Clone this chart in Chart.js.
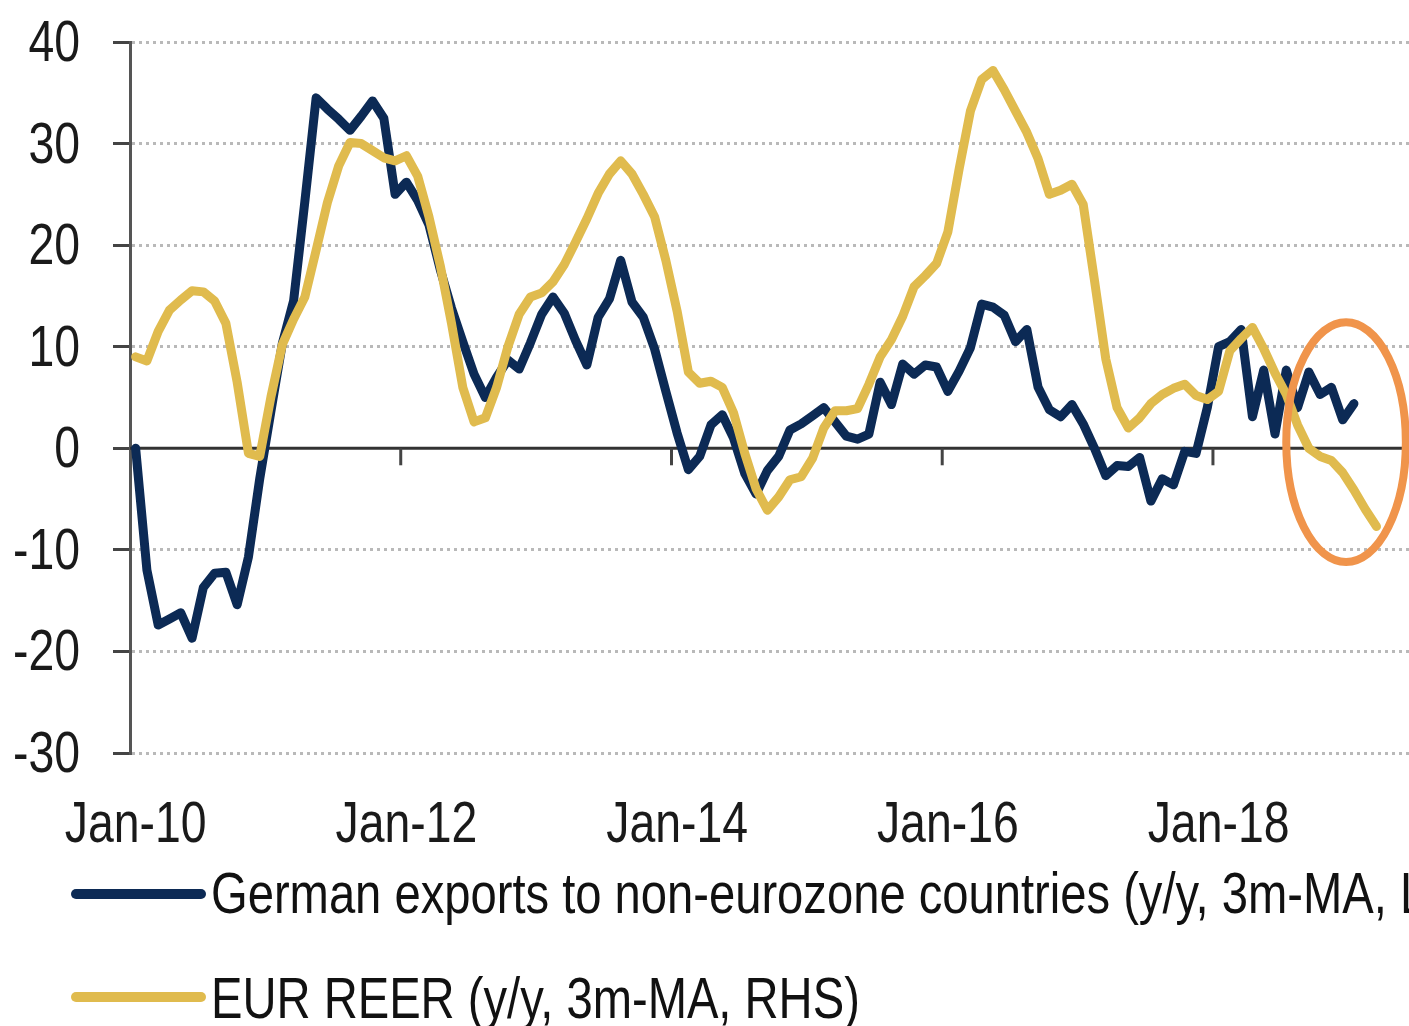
<!DOCTYPE html>
<html>
<head>
<meta charset="utf-8">
<script src="https://cdn.jsdelivr.net/npm/chart.js@4.4.0/dist/chart.umd.min.js"></script>
<style>
    html, body { margin: 0; padding: 0; background: #fff; overflow: hidden; width: 1409px; height: 1026px; }
    #wrap { position: absolute; left: 0; top: 0; width: 1416px; height: 871px; }
    .swatch { position: absolute; left: 71px; width: 135px; height: 10px; border-radius: 5px; }
    .legendText { position: absolute; left: 211px; white-space: nowrap; font-family: 'Liberation Sans', Arial, sans-serif; font-size: 58px; line-height: 58px; color: #111; transform: scaleX(0.813); transform-origin: 0 0; }
</style>
</head>
<body>
<div id="wrap"><canvas id="exportsChart" width="1416" height="871"></canvas></div>
<div class="swatch" style="top:889px; background:#0c2a55;"></div>
<div class="legendText" style="top:864px;">German exports to non-eurozone countries (y/y, 3m-MA, LHS)</div>
<div class="swatch" style="top:992px; background:#e0bb4e;"></div>
<div class="legendText" style="top:969px;">EUR REER (y/y, 3m-MA, RHS)</div>

<script>
const monthNames = ['Jan', 'Feb', 'Mar', 'Apr', 'May', 'Jun', 'Jul', 'Aug', 'Sep', 'Oct', 'Nov', 'Dec'];
const startYear = 2010;
const monthCount = 114; // Jan-10 .. Jun-19, axis runs past the last data point

// German exports to non-eurozone countries, y/y %, 3m-MA (from Jan-10)
const exportsYoY = [
    0, -12.0, -17.4, -16.8, -16.2, -18.7, -13.7, -12.3, -12.2, -15.4, -10.7, -3.0,
    3.7, 10.3, 14.5, 24.3, 34.5, 33.4, 32.4, 31.3, 32.7, 34.2, 32.5, 25.0,
    26.2, 24.4, 22.0, 17.6, 13.8, 10.5, 7.3, 5.0, 7.0, 8.7, 7.8, 10.4,
    13.2, 14.9, 13.3, 10.6, 8.2, 12.9, 14.7, 18.5, 14.4, 12.9, 9.8, 5.6,
    1.5, -2.1, -0.8, 2.3, 3.3, 1.0, -2.5, -4.5, -2.2, -0.8, 1.8, 2.4,
    3.2, 4.0, 2.6, 1.2, 0.9, 1.4, 6.5, 4.3, 8.3, 7.3, 8.2, 8.0,
    5.6, 7.6, 9.9, 14.2, 13.9, 13.1, 10.5, 11.7, 6.0, 3.8, 3.1, 4.3,
    2.4, 0.0, -2.7, -1.7, -1.8, -0.9, -5.2, -3.0, -3.6, -0.3, -0.5, 4.0,
    10.0, 10.5, 11.7, 3.1, 7.7, 1.4, 7.7, 4.0, 7.5, 5.3, 6.0, 2.8,
    4.4
];

// EUR REER, y/y %, 3m-MA (from Jan-10)
const reerYoY = [
    9.0, 8.6, 11.5, 13.6, 14.6, 15.5, 15.4, 14.5, 12.3, 6.5, -0.5, -0.8,
    5.1, 10.2, 12.7, 14.9, 19.5, 24.2, 27.8, 30.1, 30.0, 29.3, 28.6, 28.3,
    28.8, 26.8, 22.8, 18.0, 12.3, 6.0, 2.6, 3.0, 6.0, 10.0, 13.2, 14.9,
    15.3, 16.4, 18.1, 20.3, 22.6, 25.1, 27.0, 28.3, 27.0, 25.0, 22.8, 18.5,
    13.5, 7.5, 6.4, 6.6, 6.0, 3.5, -0.5, -4.0, -6.1, -4.8, -3.1, -2.8,
    -1.0, 2.0, 3.7, 3.7, 3.9, 6.3, 9.0, 10.7, 13.0, 15.9, 17.0, 18.2,
    21.3, 27.5, 33.2, 36.3, 37.2, 35.3, 33.2, 31.1, 28.5, 25.0, 25.4, 26.0,
    24.0, 16.5, 8.8, 4.0, 2.0, 3.0, 4.4, 5.3, 5.9, 6.3, 5.2, 4.8,
    5.6, 9.6, 10.8, 11.9, 9.8, 7.4, 5.3, 2.3, 0.0, -0.8, -1.2, -2.4,
    -4.1, -6.0, -7.7
];

const yTicks = { min: -30, max: 40, step: 10 };

// highlight ellipse, in data units: [month index, value]
const circleCenter = [107.3, 0.6];
const circleRadius = [5.3, 11.8];

const monthLabels = [];
for (let i = 0; i < monthCount; i++) {
    const yr = startYear + Math.floor(i / 12);
    monthLabels.push(monthNames[i % 12] + '-' + String(yr).slice(2));
}

function isMajor(i) {
    return i % 24 === 0;
}

// narrow look: Liberation Sans squeezed horizontally
const labelFont = "58px 'Liberation Sans', Arial, sans-serif";
const squeeze = 0.8;

const zeroLinePlugin = {
    id: 'zeroLine',
    beforeDatasetsDraw(chart) {
        const { ctx, chartArea, scales: { x, y } } = chart;
        const y0 = y.getPixelForValue(0);
        ctx.save();
        ctx.strokeStyle = '#333';
        ctx.lineWidth = 3;
        ctx.beginPath();
        ctx.moveTo(chartArea.left, y0);
        ctx.lineTo(chartArea.right, y0);
        ctx.stroke();
        ctx.strokeStyle = '#444';
        monthLabels.forEach((lab, i) => {
            if (i > 0 && isMajor(i)) {
                const xp = x.getPixelForValue(i - 0.5);
                ctx.beginPath();
                ctx.moveTo(xp, y0);
                ctx.lineTo(xp, y0 + 17);
                ctx.stroke();
            }
        });
        ctx.restore();
    }
};

const circlePlugin = {
    id: 'circle',
    afterDatasetsDraw(chart) {
        const { ctx, scales: { x, y } } = chart;
        const cx = x.getPixelForValue(circleCenter[0]);
        const cy = y.getPixelForValue(circleCenter[1]);
        const rx = x.getPixelForValue(circleCenter[0] + circleRadius[0]) - cx;
        const ry = cy - y.getPixelForValue(circleCenter[1] + circleRadius[1]);
        ctx.save();
        ctx.strokeStyle = '#f0944b';
        ctx.lineWidth = 8;
        ctx.beginPath();
        ctx.ellipse(cx, cy, rx, ry, 0, 0, Math.PI * 2);
        ctx.stroke();
        ctx.restore();
    }
};

const tickLabelPlugin = {
    id: 'tickLabels',
    afterDraw(chart) {
        const { ctx, chartArea, scales: { x, y } } = chart;
        ctx.save();
        ctx.font = labelFont;
        ctx.fillStyle = '#1a1a1a';
        ctx.textBaseline = 'alphabetic';
        y.ticks.forEach(t => {
            ctx.save();
            ctx.translate(chartArea.left - 50, y.getPixelForValue(t.value) + 19);
            ctx.scale(squeeze, 1);
            ctx.textAlign = 'right';
            ctx.fillText(String(t.value), 0, 0);
            ctx.restore();
        });
        x.ticks.forEach((t, i) => {
            if (!t.label) return;
            ctx.save();
            ctx.translate(x.getPixelForTick(i), chartArea.bottom + 89);
            ctx.scale(squeeze, 1);
            ctx.textAlign = 'center';
            ctx.fillText(t.label, 0, 0);
            ctx.restore();
        });
        ctx.restore();
    }
};

const ctx = document.getElementById('exportsChart').getContext('2d');
new Chart(ctx, {
    type: 'line',
    data: {
        labels: monthLabels,
        datasets: [{
            label: 'German exports to non-eurozone countries (y/y, 3m-MA, LHS)',
            data: exportsYoY,
            borderColor: '#0c2a55',
            borderWidth: 9,
            pointRadius: 0,
            tension: 0,
            borderJoinStyle: 'round',
            borderCapStyle: 'round',
            fill: false,
            order: 1
        }, {
            label: 'EUR REER (y/y, 3m-MA, RHS)',
            data: reerYoY,
            borderColor: '#e0bb4e',
            borderWidth: 9,
            pointRadius: 0,
            tension: 0,
            borderJoinStyle: 'round',
            borderCapStyle: 'round',
            fill: false,
            order: 0
        }]
    },
    options: {
        responsive: false,
        animation: false,
        layout: { padding: { top: 42, right: 0, bottom: 0, left: 0 } },
        plugins: {
            legend: { display: false },
            tooltip: { enabled: false }
        },
        scales: {
            x: {
                type: 'category',
                offset: true,
                grid: { display: false, drawTicks: false, offset: true },
                border: { display: false },
                ticks: {
                    autoSkip: false,
                    maxRotation: 0,
                    minRotation: 0,
                    padding: 36,
                    color: 'rgba(0,0,0,0)',
                    font: { size: 40 },
                    callback: function (val, i) {
                        return isMajor(i) ? monthLabels[i] : null;
                    }
                },
                afterFit(scale) {
                    scale.height = 118;
                    scale.paddingLeft = 0;
                    scale.paddingRight = 0;
                }
            },
            y: {
                min: yTicks.min,
                max: yTicks.max,
                ticks: {
                    stepSize: yTicks.step,
                    padding: 33,
                    color: 'rgba(0,0,0,0)',
                    font: { size: 40 }
                },
                grid: {
                    color: (c) => c.tick && c.tick.value === 0 ? 'rgba(0,0,0,0)' : '#b9b9b9',
                    lineWidth: 3,
                    tickColor: '#444',
                    tickLength: 17,
                    tickWidth: 3,
                    tickBorderDash: []
                },
                border: { display: true, color: '#555', width: 3, dash: [3, 4] },
                afterFit(scale) {
                    scale.width = 130;
                    scale.paddingTop = 0;
                    scale.paddingBottom = 0;
                }
            }
        }
    },
    plugins: [zeroLinePlugin, circlePlugin, tickLabelPlugin]
});
</script>
</body>
</html>
